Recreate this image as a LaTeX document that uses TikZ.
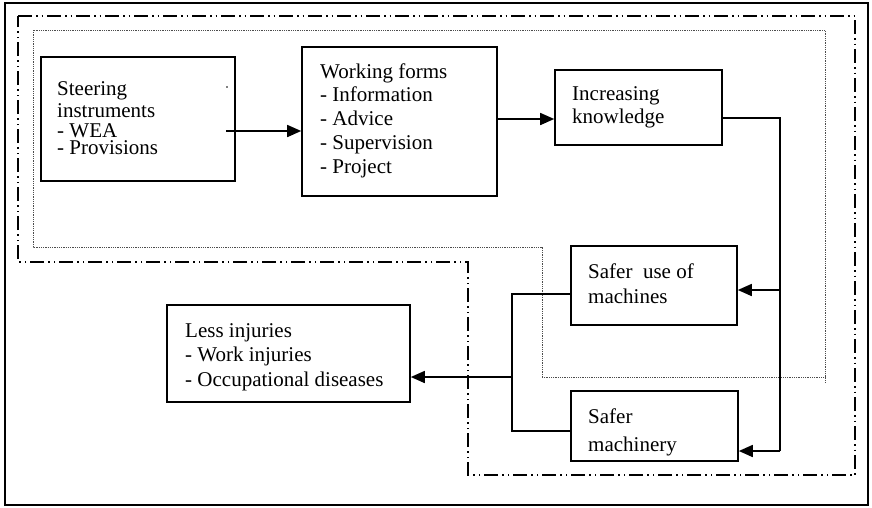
\documentclass[tikz,border=0pt]{standalone}
\usepackage{fontspec}
\setmainfont{Liberation Serif}
\usetikzlibrary{arrows.meta,calc}
\begin{document}
\begin{tikzpicture}[x=1pt,y=-1pt,
  box/.style={draw,line width=1.6pt,inner sep=0pt},
  txt/.style={anchor=base west,align=left,inner sep=0pt},
  conn/.style={line width=1.6pt},
  arr/.style={conn,-{Triangle[length=14pt,width=12pt]}},
  dashdot/.style={line width=1.4pt,
    dash pattern=on 14pt off 4pt on 1.5pt off 4pt on 1.5pt off 4pt},
  fine/.style={line width=1pt,gray!60!black,dash pattern=on 1pt off 0.8pt}]
\useasboundingbox (0,0) rectangle (872,507);
\fill[white] (0,0) rectangle (872,507);
% outer frame
\draw[line width=1.8pt] (5,3) rectangle (868,505);
% grouping outlines
\draw[dashdot] (18,16) -- (855,16) -- (855,475) -- (468,475) -- (468,262) -- (18,262) -- cycle;
\draw[fine] (542,377) -- (542,247) -- (33,247) -- (33,30) -- (825,30) -- (825,382);
\draw[fine] (542,377) -- (825,377);
% boxes
\node[box,minimum width=194pt,minimum height=124pt] (steer) at (138,119) {};
\node[box,minimum width=195pt,minimum height=149pt] (work) at (399.5,121.5) {};
\node[box,minimum width=167pt,minimum height=75pt] (know) at (638.5,107.5) {};
\node[box,minimum width=166pt,minimum height=79pt] (use) at (654,285.5) {};
\node[box,minimum width=167pt,minimum height=70pt] (mach) at (654.5,426) {};
\node[box,minimum width=243pt,minimum height=97pt] (inj) at (288.5,353.5) {};
% texts (each node sits on the baseline of its last line)
\node[txt,font=\fontsize{21}{22}\selectfont] (steert) at (57,154)
  {Steering\\instruments\\[-2pt]- WEA\\[-5pt]- Provisions};
\node[txt,font=\fontsize{21}{23.75}\selectfont] (workt) at (320,173)
  {Working forms\\- Information\\- Advice\\- Supervision\\- Project};
\node[txt,font=\fontsize{21}{23}\selectfont] (knowt) at (572,123) {Increasing\\knowledge};
\node[txt,font=\fontsize{21}{25}\selectfont] (uset) at (588,303) {Safer\ \ use of\\machines};
\node[txt,font=\fontsize{21}{28}\selectfont] (macht) at (588,451) {Safer\\machinery};
\node[txt,font=\fontsize{21}{24.5}\selectfont] (injt) at (185,386) {Less injuries\\- Work injuries\\- Occupational diseases};
\fill (227,87) circle (0.9pt);
% connectors
\coordinate (s1) at (226,131);
\coordinate (k1) at (0,119);
\coordinate (kr) at (780,118);
\coordinate (ur) at (780,290);
\coordinate (mr) at (780,451);
\coordinate (ul) at (512,294);
\coordinate (jn) at (512,377);
\coordinate (ml) at (512,431);
\draw[arr] (s1) -- (work.west |- s1);
\draw[arr] (work.east |- k1) -- (know.west |- k1);
\draw[conn] (know.east |- kr) -- (kr) -- (mr);
\draw[arr] (ur) -- (use.east |- ur);
\draw[arr] (mr) -- (mach.east |- mr);
\draw[conn] (use.west |- ul) -- (ul) -- (ml) -- (mach.west |- ml);
\draw[arr] (jn) -- (inj.east |- jn);
\end{tikzpicture}
\end{document}
